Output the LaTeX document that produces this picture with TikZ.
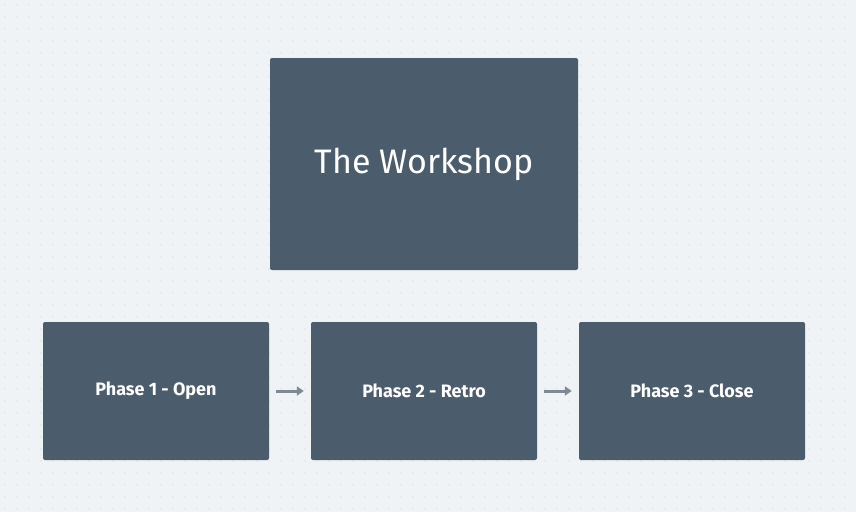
\documentclass[tikz,border=0pt]{standalone}
\usepackage{fontspec}
\setmainfont{Fira Sans}
\usetikzlibrary{arrows.meta}
\definecolor{bgcol}{HTML}{F0F3F6}
\definecolor{boxcol}{HTML}{4B5D6C}
\definecolor{dotcol}{HTML}{C5CCD3}
\definecolor{arrcol}{HTML}{7D8A95}
\tikzset{
    box/.style={draw=none, fill=boxcol, rounded corners=2pt, text=white, inner sep=0pt},
    phase/.style={box, minimum width=226pt, minimum height=138pt, font=\fontsize{18}{20}\selectfont\bfseries},
    flow/.style={-{Triangle[length=7pt,width=9pt]}, line width=3pt, arrcol}
}
\begin{document}
\begin{tikzpicture}[x=1pt, y=-1pt]
    % background
    \fill[bgcol] (0,0) rectangle (856,512);
    \useasboundingbox (0,0) rectangle (856,512);

    % dot grid
    \foreach \x in {5,17,...,853}
        \foreach \y in {5,17,...,509}
            \fill[dotcol] (\x,\y) circle (0.7);

    % boxes
    \node[box, minimum width=308pt, minimum height=212pt, font=\fontsize{34}{38}\selectfont] (workshop) at (424,164) {The Workshop};
    \node[phase] (open) at (156,391) {Phase 1 - Open};
    \node[phase] (retro) at (424,391) {Phase 2 - Retro};
    \node[phase] (close) at (692,391) {Phase 3 - Close};

    % arrows
    \draw[flow] ([xshift=7pt]open.east) -- ([xshift=-7pt]retro.west);
    \draw[flow] ([xshift=7pt]retro.east) -- ([xshift=-7pt]close.west);
\end{tikzpicture}
\end{document}
